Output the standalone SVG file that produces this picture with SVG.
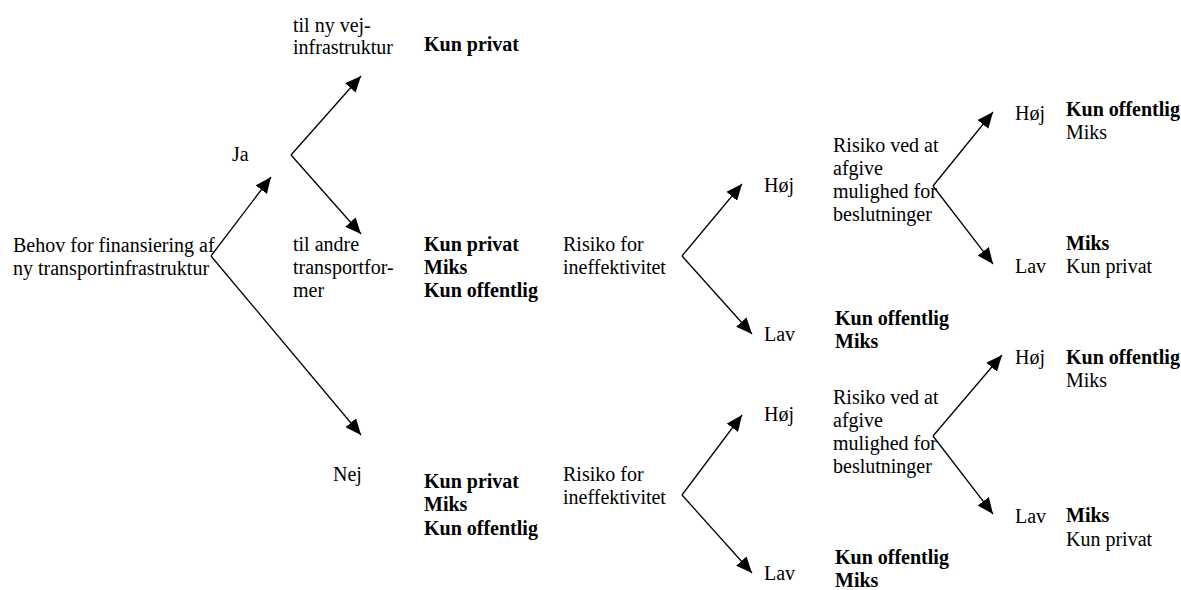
<svg xmlns="http://www.w3.org/2000/svg" width="1181" height="590" viewBox="0 0 1181 590">
<style>
text{font-family:"Liberation Serif","Times New Roman",serif;font-size:20px;fill:#000}
.b{font-weight:bold}
.c{stroke:#000;stroke-width:1.3;fill:none;marker-end:url(#ah)}
</style>
<defs>
<marker id="ah" markerUnits="userSpaceOnUse" markerWidth="18" markerHeight="14" refX="16" refY="7" orient="auto">
<path d="M0,0 L16,7 L0,14 Z" fill="#000"/>
</marker>
</defs>
<rect width="1181" height="590" fill="#fff"/>
<g id="connectors">
<path class="c" d="M211,256 L271,177"/>
<path class="c" d="M211,256 L361,435"/>
<path class="c" d="M291,155 L361,76"/>
<path class="c" d="M291,155 L361,234"/>
<path class="c" d="M682,256 L742,184"/>
<path class="c" d="M682,256 L752,334"/>
<path class="c" d="M682,495 L742,415"/>
<path class="c" d="M682,495 L752,573"/>
<path class="c" d="M933,186 L993,112"/>
<path class="c" d="M933,186 L993,264"/>
<path class="c" d="M933,436 L1002,355"/>
<path class="c" d="M933,436 L993,514"/>
</g>
<g id="root"><text x="13" y="252">Behov for finansiering af</text><text x="13" y="275">ny transportinfrastruktur</text></g>
<g id="ja"><text x="232" y="161">Ja</text></g>
<g id="nej"><text x="333" y="481">Nej</text></g>
<g id="vej"><text x="293" y="32">til ny vej-</text><text x="293" y="54">infrastruktur</text></g>
<g id="vej-res"><text class="b" x="424" y="51">Kun privat</text></g>
<g id="andre"><text x="293" y="251">til andre</text><text x="293" y="274">transportfor-</text><text x="293" y="297">mer</text></g>
<g id="andre-res"><text class="b" x="424" y="251">Kun privat</text><text class="b" x="424" y="274">Miks</text><text class="b" x="424" y="297">Kun offentlig</text></g>
<g id="nej-res"><text class="b" x="424" y="488">Kun privat</text><text class="b" x="424" y="511">Miks</text><text class="b" x="424" y="535">Kun offentlig</text></g>
<g id="risiko1"><text x="563" y="251">Risiko for</text><text x="563" y="274">ineffektivitet</text></g>
<g id="risiko2"><text x="563" y="481">Risiko for</text><text x="563" y="504">ineffektivitet</text></g>
<g id="hoj1"><text x="764" y="192">Høj</text></g>
<g id="lav1"><text x="764" y="341">Lav</text></g>
<g id="hoj2"><text x="764" y="421">Høj</text></g>
<g id="lav2"><text x="764" y="580">Lav</text></g>
<g id="lav1-res"><text class="b" x="835" y="325">Kun offentlig</text><text class="b" x="835" y="348">Miks</text></g>
<g id="lav2-res"><text class="b" x="835" y="564">Kun offentlig</text><text class="b" x="835" y="587">Miks</text></g>
<g id="beslut1"><text x="833" y="152">Risiko ved at</text><text x="833" y="175">afgive</text><text x="833" y="198">mulighed for</text><text x="833" y="221">beslutninger</text></g>
<g id="beslut2"><text x="833" y="404">Risiko ved at</text><text x="833" y="427">afgive</text><text x="833" y="450">mulighed for</text><text x="833" y="473">beslutninger</text></g>
<g id="hoj3"><text x="1015" y="120">Høj</text><text class="b" x="1066" y="116">Kun offentlig</text><text x="1066" y="139">Miks</text></g>
<g id="lav3"><text x="1015" y="273">Lav</text><text class="b" x="1066" y="250">Miks</text><text x="1066" y="273">Kun privat</text></g>
<g id="hoj4"><text x="1015" y="364">Høj</text><text class="b" x="1066" y="364">Kun offentlig</text><text x="1066" y="387">Miks</text></g>
<g id="lav4"><text x="1015" y="523">Lav</text><text class="b" x="1066" y="522">Miks</text><text x="1066" y="546">Kun privat</text></g>
</svg>
